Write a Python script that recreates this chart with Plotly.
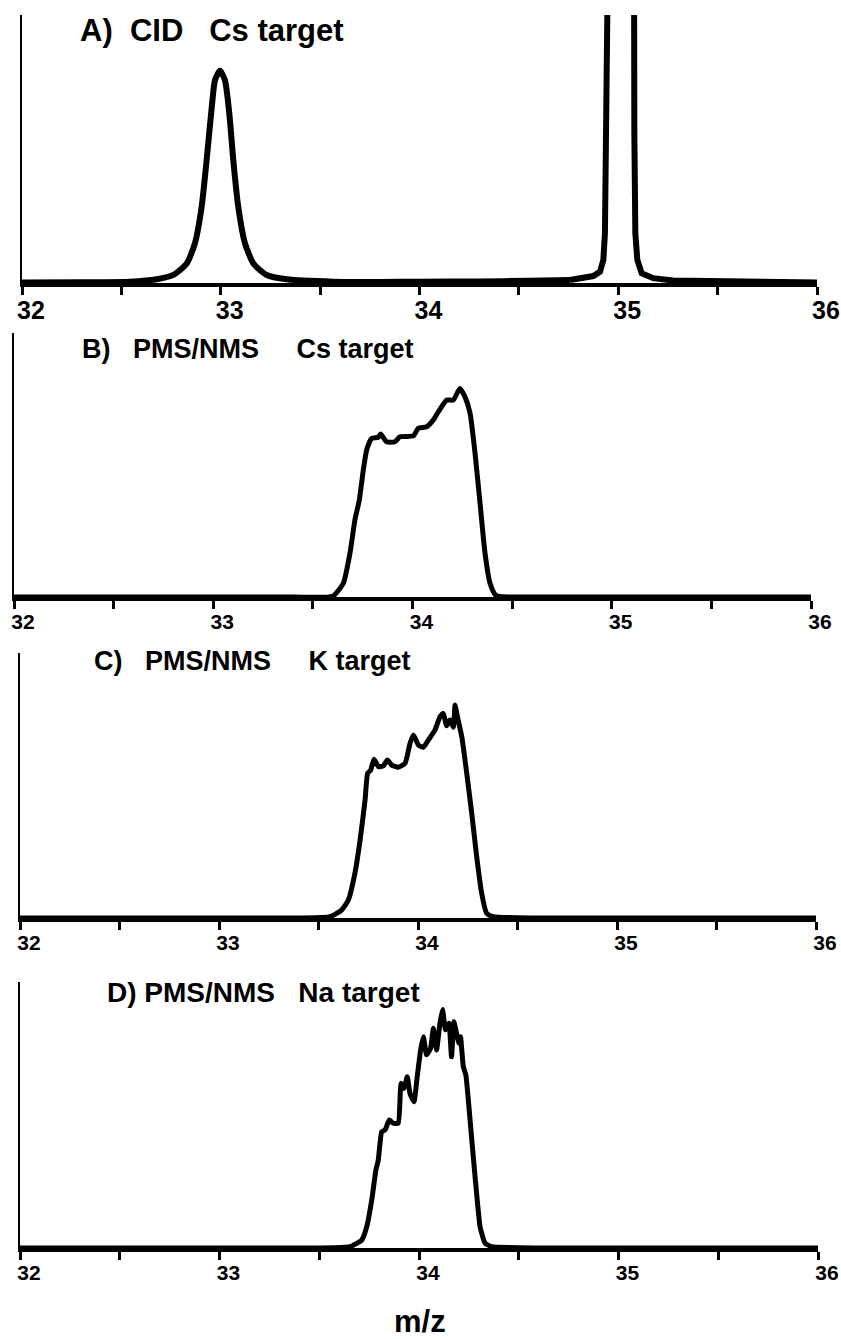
import plotly.graph_objects as go

# ---------------- data ----------------
# Panel A: CID, Cs target
a_mz = [32.0, 32.3, 32.543, 32.678, 32.761, 32.829, 32.870, 32.904, 32.929, 32.955, 32.971, 32.996,
        33.021, 33.043, 33.063, 33.088, 33.122, 33.164, 33.231, 33.332, 33.565, 33.8, 34.0, 34.3,
        34.55, 34.757, 34.874, 34.908, 34.925, 34.933, 34.938, 34.945, 35.010, 35.076, 35.081,
        35.086, 35.096, 35.118, 35.176, 35.277, 35.6, 36.0]
a_int = [0.2, 0.3, 0.5, 1.4, 3.0, 7.3, 14.8, 28.5, 45.9, 65.8, 75.7, 79.2,
         75.7, 63.3, 45.9, 28.5, 14.8, 7.3, 3.0, 1.4, 0.5, 0.4, 0.5, 0.6,
         0.8, 1.1, 2.6, 4.2, 8.6, 18.5, 55.9, 100.4, 3000.0, 100.4, 55.9,
         18.5, 8.6, 3.6, 1.8, 0.9, 0.4, 0.2]

# Panel B: PMS/NMS, Cs target
b_mz = [32.0, 33.4, 33.60, 33.653, 33.686, 33.711, 33.733, 33.753, 33.770, 33.795, 33.828, 33.840,
        33.870, 33.912, 33.937, 34.004, 34.029, 34.071, 34.104, 34.130, 34.172, 34.205, 34.238,
        34.263, 34.289, 34.314, 34.339, 34.364, 34.389, 34.42, 34.6, 36.0]
b_int = [0.0, 0.0, 0.3, 5.2, 16.5, 29.2, 36.7, 48.1, 55.7, 60.1, 60.5, 61.7,
         58.8, 58.8, 60.7, 61.0, 63.9, 64.5, 67.0, 70.2, 74.6, 74.6, 79.0,
         75.9, 69.6, 54.4, 35.5, 16.5, 5.2, 0.5, 0.0, 0.0]

# Panel C: PMS/NMS, K target
c_mz = [32.0, 33.4, 33.558, 33.616, 33.650, 33.683, 33.709, 33.734, 33.747, 33.762, 33.779, 33.801,
        33.826, 33.846, 33.868, 33.901, 33.935, 33.960, 33.977, 34.002, 34.027, 34.052, 34.085,
        34.111, 34.127, 34.144, 34.161, 34.178, 34.186, 34.198, 34.220, 34.245, 34.270, 34.295,
        34.320, 34.345, 34.378, 34.6, 36.0]
c_int = [0.0, 0.0, 0.5, 3.0, 6.8, 16.9, 29.4, 44.5, 54.6, 55.8, 59.9, 57.1,
         57.4, 59.6, 57.7, 56.9, 58.4, 65.9, 69.1, 65.3, 64.4, 67.2, 70.9,
         76.0, 77.2, 72.5, 74.7, 72.0, 80.4, 76.0, 68.4, 54.6, 39.5, 23.1,
         9.3, 1.8, 0.5, 0.0, 0.0]

# Panel D: PMS/NMS, Na target
d_mz = [32.0, 33.5, 33.654, 33.713, 33.738, 33.763, 33.784, 33.796, 33.813, 33.830, 33.851, 33.871,
        33.896, 33.910, 33.925, 33.941, 33.955, 33.975, 33.991, 34.008, 34.022, 34.038, 34.058,
        34.072, 34.088, 34.105, 34.118, 34.133, 34.150, 34.163, 34.175, 34.188, 34.200, 34.208,
        34.222, 34.235, 34.256, 34.281, 34.306, 34.331, 34.364, 34.6, 36.0]
d_int = [0.0, 0.0, 0.5, 3.0, 8.0, 18.0, 29.3, 33.1, 43.7, 44.4, 48.1, 46.9,
         46.9, 61.9, 60.0, 64.4, 58.1, 55.0, 64.4, 74.4, 79.4, 72.6, 75.1,
         82.6, 74.4, 84.5, 89.7, 82.0, 84.5, 71.9, 85.1, 80.7, 77.0, 79.4,
         68.2, 65.0, 48.1, 26.8, 8.0, 1.8, 0.5, 0.0, 0.0]

tick_vals = [32, 32.5, 33, 33.5, 34, 34.5, 35, 35.5, 36]
tick_text = ["32", "", "33", "", "34", "", "35", "", "36"]

titles = ["A)\u00a0\u00a0CID\u00a0\u00a0\u00a0Cs target",
          "B)\u00a0\u00a0\u00a0PMS/NMS\u00a0\u00a0\u00a0\u00a0\u00a0Cs target",
          "C)\u00a0\u00a0\u00a0PMS/NMS\u00a0\u00a0\u00a0\u00a0\u00a0K target",
          "D)\u00a0PMS/NMS\u00a0\u00a0\u00a0Na target"]
x_label = "m/z"

# ---------------- layout geometry (pixels) ----------------
W, H = 841, 1339
FONT = "Liberation Sans, Arial, Helvetica, sans-serif"
panels = [
    # (x_left, x_right, y_top, y_bottom, line width, tick font size, label standoff, title x, title y, title size)
    (22, 817, 15, 283, 6, 25, -6, 78, 31, 31),
    (14, 811, 333, 597, 5, 21, -5, 80, 349, 27),
    (20, 816, 653, 918, 5, 21, -5, 92, 661, 27),
    (20, 818, 982, 1248, 5, 21, -5, 105, 992, 28),
]
series = [(a_mz, a_int), (b_mz, b_int), (c_mz, c_int), (d_mz, d_int)]
smooth = [0.6, 0.5, 0.5, 0.4]

fig = go.Figure()
annotations = []
for i, ((xl, xr, yt, yb, lw, tfs, tso, tx, ty, tsz), (mz, inten)) in enumerate(zip(panels, series)):
    n = "" if i == 0 else str(i + 1)
    if i == 0:
        # broad peak at 33 (smooth) and the off-scale peak at 35 (straight walls)
        k = mz.index(34.757)
        parts = [(mz[:k + 1], inten[:k + 1], "spline"), (mz[k:], inten[k:], "linear")]
    else:
        parts = [(mz, inten, "spline")]
    for px, py, shape in parts:
        fig.add_trace(go.Scatter(x=px, y=py, mode="lines",
                                 line=dict(color="black", width=lw, shape=shape,
                                           smoothing=smooth[i] if shape == "spline" else None),
                                 xaxis="x" + n, yaxis="y" + n,
                                 showlegend=False, hoverinfo="skip"))
    fig.layout["xaxis" + n] = dict(
        domain=[xl / W, xr / W], anchor="y" + n, range=[32, 36], automargin=False,
        showline=True, linewidth=4, linecolor="black",
        ticks="outside", ticklen=8, tickwidth=3, tickcolor="black",
        tickvals=tick_vals, ticktext=tick_text, ticklabelshift=9, ticklabelstandoff=tso,
        tickfont=dict(family=FONT, size=tfs, color="black", weight="bold"),
        showgrid=False, zeroline=False, fixedrange=True)
    fig.layout["yaxis" + n] = dict(
        domain=[1 - yb / H, 1 - yt / H], anchor="x" + n, range=[0, 100], automargin=False,
        showline=True, linewidth=2, linecolor="black",
        ticks="", showticklabels=False,
        showgrid=False, zeroline=False, fixedrange=True)
    annotations.append(dict(text=titles[i], x=tx / W, y=1 - ty / H,
                            xref="paper", yref="paper", xanchor="left", yanchor="middle",
                            showarrow=False,
                            font=dict(family=FONT, size=tsz, color="black", weight="bold")))

annotations.append(dict(text=x_label, x=420 / W, y=1 - 1321 / H, xref="paper", yref="paper",
                        xanchor="center", yanchor="middle", showarrow=False,
                        font=dict(family=FONT, size=31, color="black", weight="bold")))

fig.update_layout(width=W, height=H, autosize=False, margin=dict(l=0, r=0, t=0, b=0, pad=0),
                  paper_bgcolor="white", plot_bgcolor="white",
                  annotations=annotations, showlegend=False)

fig.write_html("out.html", config={"displayModeBar": False})
